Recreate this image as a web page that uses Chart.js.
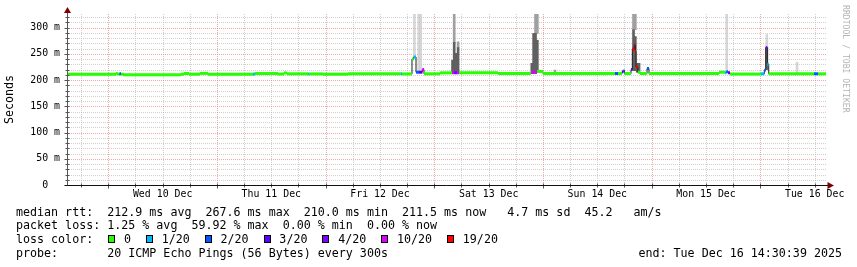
<!DOCTYPE html>
<html>
<head>
<meta charset="utf-8">
<script src="https://cdn.jsdelivr.net/npm/chart.js@4.4.1/dist/chart.umd.min.js"></script>
<style>
html, body { margin:0; padding:0; background:#fff; }
#wrap { position:relative; width:857px; height:267px; overflow:hidden; background:#fff; }
canvas { position:absolute; left:0; top:0; }
.txt { position:absolute; font:11.66px "DejaVu Sans Mono", monospace; white-space:pre; color:#000; line-height:14px; }
.box { position:absolute; width:5px; height:6px; border:1px solid #000; }
#mark { position:absolute; left:841px; top:5px; font:8.15px "DejaVu Sans Mono", monospace; color:#b4b4b4; writing-mode:vertical-rl; white-space:pre; }
</style>
</head>
<body>
<div id="wrap">
  <canvas id="c" width="857" height="267"></canvas>
  <div id="mark">RRDTOOL / TOBI OETIKER</div>
  <div id="legend"></div>
</div>
<script>
/* SmokePing style latency graph */

// time axis: hours from Wed 10 Dec 00:00
const START_T = -9.12;
const END_T = 158.5;
const dayNoons = [12, 36, 60, 84, 108, 132, 156];
const dayLabels = ["Wed 10 Dec", "Thu 11 Dec", "Fri 12 Dec", "Sat 13 Dec", "Sun 14 Dec", "Mon 15 Dec", "Tue 16 Dec"];
const yLabelTicks = [0, 50, 100, 150, 200, 250, 300];

// loss colours
const lossLevels = [0, 1, 2, 3, 4, 10, 19];
const lossLabels = ["0", "1/20", "2/20", "3/20", "4/20", "10/20", "19/20"];
const lossColors = ["#26ff00", "#00b8ff", "#0059ff", "#5e00ff", "#7e00ff", "#dd00ff", "#ff0000"];

// median rtt: step start (h), value (ms), lost pings
const medT = [-9.12, 1.70, 2.14, 2.47, 2.81, 3.36, 16.06, 16.72, 17.82, 20.25, 22.02, 31.96, 32.40, 37.48, 38.80, 39.47,
  44.10, 44.32, 47.42, 52.94, 64.64, 64.86, 67.07, 67.45, 67.96, 68.62, 69.35, 69.72, 73.26, 75.91, 76.35, 77.01, 77.45,
  86.07, 93.35, 94.68, 96.00, 111.90, 112.57, 113.45, 113.78, 114.00, 115.44, 115.73, 116.17, 116.39, 116.54, 116.92,
  117.43, 118.97, 119.41, 134.87, 136.20, 136.53, 136.86, 137.30, 144.15, 144.88, 145.19, 145.54, 145.85, 155.85, 156.74];
const medV = [211.3, 212.4, 211.3, 212.0, 211.3, 210.0, 211.2, 212.6, 211.2, 212.8, 211.3, 211.5, 212.5, 211.6, 213.6, 212.0,
  211.8, 211.8, 211.2, 212.1, 212.1, 211.8, 240.0, 244.0, 215.0, 215.0, 220.0, 212.0, 213.8, 214.0, 214.0, 214.0, 213.8,
  212.6, 214.5, 216.5, 212.5, 212.5, 212.5, 216.0, 218.0, 212.5, 220.0, 259.0, 267.6, 255.0, 225.0, 215.0,
  212.5, 222.0, 212.5, 215.0, 214.0, 216.0, 214.0, 211.5, 212.0, 219.0, 262.0, 230.0, 212.0, 212.0, 212.0];
const medLoss = [0, 0, 0, 2, 0, 0, 0, 0, 0, 0, 0, 1, 0, 0, 0, 0,
  1, 0, 0, 0, 1, 0, 0, 1, 2, 3, 10, 0, 0, 10, 4, 10, 0,
  0, 10, 0, 0, 2, 0, 3, 2, 0, 3, 19, 19, 19, 19, 0,
  0, 2, 0, 0, 1, 2, 3, 0, 1, 2, 4, 1, 0, 2, 0];

// smoke (ping spread), light / mid / dark grey columns
const smokeLightT = [67.60, 68.55, 68.99, 136.57, 145.43, 152.10];
const smokeLightLo = [244, 215, 215, 216, 230, 212];
const smokeLightHi = [326, 326, 326, 326, 287, 234];
const smokeMidT = [76.39, 77.25, 94.35, 94.75, 98.65, 115.99, 116.39];
const smokeMidLo = [272, 262, 289, 289, 213, 296, 296];
const smokeMidHi = [326, 273, 326, 326, 219, 326, 326];
const smokeDarkT = [76.02, 76.39, 76.83, 77.25, 93.53, 93.93, 94.35, 94.75, 115.99, 116.39, 116.81, 117.21, 145.43];
const smokeDarkLo = [214, 214, 214, 214, 215, 215, 215, 215, 218, 218, 215, 215, 220];
const smokeDarkHi = [238, 272, 251, 262, 232, 289, 289, 276, 296, 283, 232, 232, 262];

const statLines = [
  "median rtt:  212.9 ms avg  267.6 ms max  210.0 ms min  211.5 ms now   4.7 ms sd  45.2   am/s",
  "packet loss: 1.25 % avg  59.92 % max  0.00 % min  0.00 % now"
];
const probeLine = "probe:       20 ICMP Echo Pings (56 Bytes) every 300s";
const endLine = "end: Tue Dec 16 14:30:39 2025";

const FONT = "'DejaVu Sans Mono', monospace";
const lossColor = (l) => lossColors[lossLevels.indexOf(l)];

// coloured median band: one flat piece per step, gaps between
const band = [];
medT.forEach((t, i) => {
  const t1 = i < medT.length - 1 ? medT[i + 1] : END_T;
  band.push({x: t, y: medV[i], loss: medLoss[i]}, {x: t1, y: medV[i], loss: medLoss[i]}, {x: t1, y: null});
});
const medLine = medT.map((t, i) => ({x: t, y: medV[i]})).concat([{x: END_T, y: medV[medV.length - 1]}]);
const cols = (T, lo, hi) => T.map((t, i) => ({x: t, y: [lo[i], hi[i]]}));

const rrdPlugin = {
  id: "rrd",
  beforeDatasetsDraw(chart) {
    const {ctx, chartArea: a, scales: {x, y}} = chart;
    ctx.save();
    ctx.lineWidth = 1;
    ctx.setLineDash([1, 1]);
    const hline = (v, c) => { const py = Math.round(y.getPixelForValue(v)) + 0.5; ctx.strokeStyle = c; ctx.beginPath(); ctx.moveTo(a.left, py); ctx.lineTo(a.right, py); ctx.stroke(); };
    const vline = (h, c) => { const px = Math.round(x.getPixelForValue(h)) + 0.5; ctx.strokeStyle = c; ctx.beginPath(); ctx.moveTo(px, a.top); ctx.lineTo(px, a.bottom); ctx.stroke(); };
    for (let v = 10; v <= 320; v += 10) if (v % 50) hline(v, "rgba(170,170,170,0.55)");
    for (let h = -6; h <= 156; h += 6) if (h % 24) vline(h, "rgba(170,170,170,0.55)");
    for (let v = 50; v <= 300; v += 50) hline(v, "rgba(230,120,120,0.65)");
    for (let h = 0; h <= 144; h += 24) vline(h, "rgba(230,120,120,0.65)");
    ctx.restore();
  },
  afterDatasetsDraw(chart) {
    const {ctx, chartArea: a, scales: {x, y}} = chart;
    const L = Math.round(a.left) + 0.5, B = Math.round(a.bottom) + 0.5;
    ctx.save();
    ctx.lineWidth = 1;
    // ticks
    ctx.strokeStyle = "#555";
    for (let v = 10; v <= 320; v += 10) {
      const py = Math.round(y.getPixelForValue(v)) + 0.5;
      ctx.beginPath(); ctx.moveTo(L - (v % 50 ? 2 : 3), py); ctx.lineTo(L + 2, py); ctx.stroke();
    }
    for (let h = -6; h <= 156; h += 6) {
      const px = Math.round(x.getPixelForValue(h)) + 0.5;
      ctx.beginPath(); ctx.moveTo(px, B - 2); ctx.lineTo(px, B + (h % 24 ? 2 : 3)); ctx.stroke();
    }
    // axes
    ctx.strokeStyle = "#555";
    ctx.beginPath(); ctx.moveTo(L, B); ctx.lineTo(L, a.top - 2); ctx.stroke();
    ctx.strokeStyle = "#111";
    ctx.beginPath(); ctx.moveTo(L - 3, B); ctx.lineTo(a.right + 2, B); ctx.stroke();
    // arrows
    ctx.fillStyle = "#7f0000";
    ctx.beginPath(); ctx.moveTo(L - 3.5, 13); ctx.lineTo(L + 3.5, 13); ctx.lineTo(L, 7); ctx.closePath(); ctx.fill();
    ctx.beginPath(); ctx.moveTo(a.right + 1.5, B - 3.5); ctx.lineTo(a.right + 1.5, B + 3.5); ctx.lineTo(a.right + 8, B); ctx.closePath(); ctx.fill();
    ctx.restore();
  }
};

new Chart(document.getElementById("c"), {
  type: "line",
  data: {
    datasets: [
      {type: "line", data: band, borderWidth: 3, borderColor: lossColors[0], pointRadius: 0, spanGaps: false,
        segment: {borderColor: c => lossColor(band[c.p0DataIndex].loss)}, order: 1},
      {type: "line", data: medLine, stepped: true, borderWidth: 1, borderColor: "#202020", pointRadius: 0, order: 2},
      {type: "bar", data: cols(smokeDarkT, smokeDarkLo, smokeDarkHi), backgroundColor: "#606060", barThickness: 2, grouped: false, order: 3},
      {type: "bar", data: cols(smokeMidT, smokeMidLo, smokeMidHi), backgroundColor: "#a0a0a0", barThickness: 2, grouped: false, order: 4},
      {type: "bar", data: cols(smokeLightT, smokeLightLo, smokeLightHi), backgroundColor: "rgba(200,200,200,0.75)", barThickness: 2, grouped: false, order: 5}
    ]
  },
  options: {
    responsive: false,
    animation: false,
    devicePixelRatio: 1,
    events: [],
    layout: {padding: {left: 0, right: 31, top: 14, bottom: 62}},
    plugins: {legend: {display: false}, tooltip: {enabled: false}},
    scales: {
      x: {
        type: "linear", min: START_T, max: END_T, offset: false,
        grid: {display: false, drawTicks: false}, border: {display: false},
        afterBuildTicks: s => { s.ticks = dayNoons.map(v => ({value: v})); },
        afterFit: s => { s.height = 20; },
        ticks: {autoSkip: false, maxRotation: 0, padding: 3, color: "#000", font: {family: FONT, size: 9.9},
          callback: v => { const i = dayNoons.indexOf(v); return i < 0 ? "" : dayLabels[i]; }}
      },
      y: {
        type: "linear", min: 0, max: 326,
        grid: {display: false, drawTicks: false}, border: {display: false},
        afterBuildTicks: s => { s.ticks = yLabelTicks.map(v => ({value: v})); },
        afterFit: s => { s.width = 67; },
        ticks: {padding: 7, color: "#000", font: {family: FONT, size: 9.9},
          callback: v => v === 0 ? "0  " : v + " m"},
        title: {display: true, text: "Seconds", color: "#000", font: {family: FONT, size: 11.66}, padding: {top: 3, bottom: 0}}
      }
    }
  },
  plugins: [rrdPlugin]
});

// text legend below the graph
const CW = 7.02, LX = 16;
const rowTop = [204.5, 218.2, 231.9, 245.6];
const legend = document.getElementById("legend");
const addText = (txt, left, top) => {
  const d = document.createElement("div");
  d.className = "txt"; d.textContent = txt;
  d.style.left = left + "px"; d.style.top = top + "px";
  legend.appendChild(d);
  return d;
};
addText(statLines[0], LX, rowTop[0]);
addText(statLines[1], LX, rowTop[1]);
addText("loss color:", LX, rowTop[2]);
let x0 = LX + 13 * CW;
lossLabels.forEach((lab, i) => {
  const b = document.createElement("div");
  b.className = "box";
  b.style.left = (x0 + 1) + "px"; b.style.top = "235px";
  b.style.background = lossColors[i];
  legend.appendChild(b);
  const tx = x0 + 16.7;
  addText(lab, tx, rowTop[2]);
  x0 = tx + (lab.length + 2) * CW;
});
addText(probeLine, LX, rowTop[3]);
const e = addText(endLine, 0, rowTop[3]);
e.style.left = "auto"; e.style.right = "15px";
</script>
</body>
</html>
